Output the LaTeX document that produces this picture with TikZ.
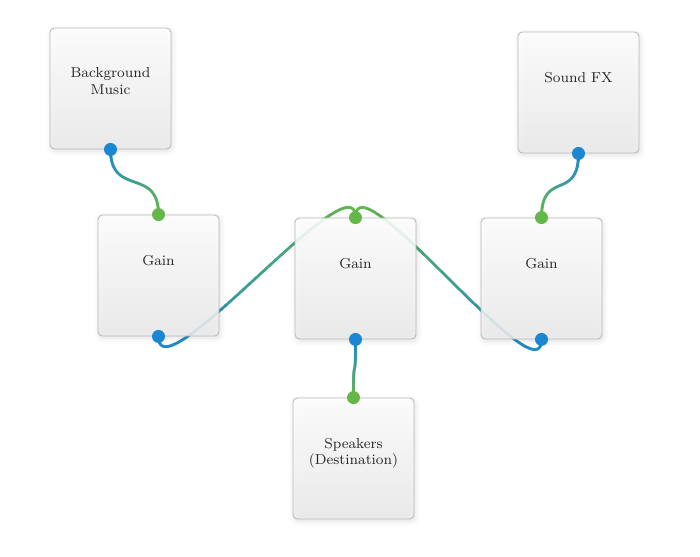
\documentclass[tikz,border=0pt]{standalone}
\usepackage{tikz}
\usetikzlibrary{decorations.markings,shadows.blur}

\definecolor{portblue}{HTML}{1B87D3}
\definecolor{portgreen}{HTML}{66B74A}
\pgfdeclarelayer{wires}
\pgfsetlayers{wires,main}

\tikzset{
	box/.style={draw=gray!55, line width=0.5pt, rounded corners=2.5pt, minimum width=2.42cm, minimum height=2.42cm, top color=white, bottom color=gray!15, fill opacity=0.88, blur shadow={shadow xshift=0.6pt, shadow yshift=-1.2pt, shadow blur radius=3pt, shadow opacity=14}},
	lab/.style={anchor=north, align=center, inner sep=0pt, text=black!85, font=\fontsize{8.2}{9.2}\selectfont},
	outport/.style={circle, fill=portblue, minimum size=0.26cm, inner sep=0pt},
	inport/.style={circle, fill=portgreen, minimum size=0.26cm, inner sep=0pt},
	wire/.style={postaction={decorate}, decoration={markings, mark=between positions 0 and 1 step 0.4pt with {\pgfmathsetmacro\mix{\pgfkeysvalueof{/pgf/decoration/mark info/distance from start}/\pgfdecoratedpathlength*100}\fill[portgreen!\mix!portblue] (0,0) circle (0.9pt);}}}
}

\begin{document}
\begin{tikzpicture}[x=0.02cm, y=-0.02cm]
				\useasboundingbox (0,0) rectangle (700,556);
				\node (box1) [box] at (110.5,88.5) {};
				\node (box2) [box] at (158.5,275.5) {};
				\node (box3) [box] at (355.5,278.5) {};
				\node (box4) [box] at (541.5,278.5) {};
				\node (box5) [box] at (578.5,92.5) {};
				\node (box6) [box] at (353.5,458.5) {};
				\node (lab1) [lab] at ([yshift=-0.8cm]box1.north) {Background\\Music};
				\node (lab2) [lab] at ([yshift=-0.8cm]box2.north) {Gain};
				\node (lab3) [lab] at ([yshift=-0.8cm]box3.north) {Gain};
				\node (lab4) [lab] at ([yshift=-0.8cm]box4.north) {Gain};
				\node (lab5) [lab] at ([yshift=-0.8cm]box5.north) {Sound FX};
				\node (lab6) [lab] at ([yshift=-0.8cm]box6.north) {Speakers\\(Destination)};
				
				% Ports
				\node (out1) [outport] at (box1.south) {};
				\node (in2) [inport] at (box2.north) {};
				\node (out2) [outport] at (box2.south) {};
				\node (in3) [inport] at (box3.north) {};
				\node (out3) [outport] at (box3.south) {};
				\node (in4) [inport] at (box4.north) {};
				\node (out4) [outport] at (box4.south) {};
				\node (out5) [outport] at (box5.south) {};
				\node (in6) [inport] at (box6.north) {};
				
				% Wires
				\begin{pgfonlayer}{wires}
				\path[wire] (out1.center) .. controls +(0,48) and +(0,-48) .. (in2.center);
				\path[wire] (out2.center) .. controls +(0,62) and +(0,-62) .. (in3.center);
				\path[wire] (out4.center) .. controls +(0,62) and +(0,-62) .. (in3.center);
				\path[wire] (out5.center) .. controls +(0,48) and +(0,-48) .. (in4.center);
				\path[wire] (out3.center) .. controls +(0,52) and +(0,-52) .. (in6.center);
				\end{pgfonlayer}
		\end{tikzpicture}
\end{document}
